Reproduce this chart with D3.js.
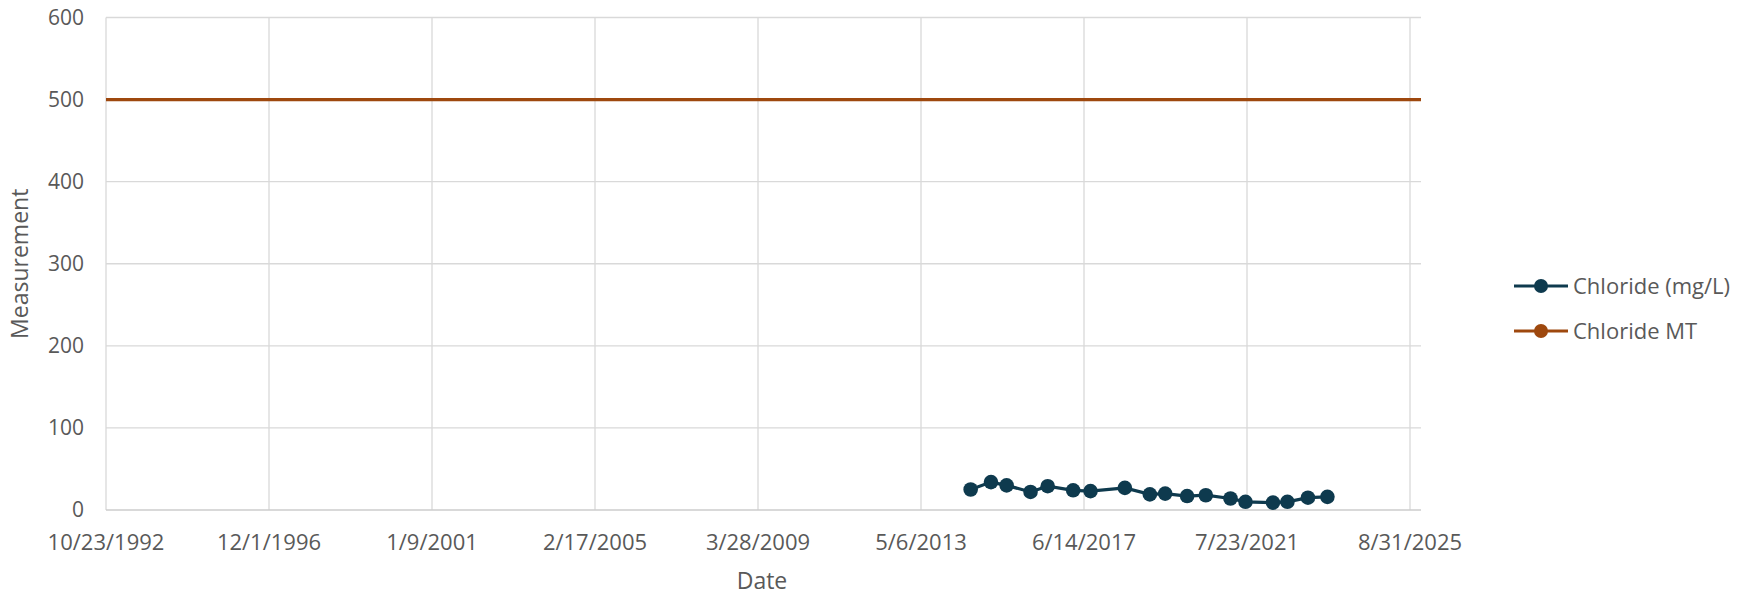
<!DOCTYPE html>
<html>
<head>
<meta charset="utf-8">
<script src="https://cdn.jsdelivr.net/npm/d3@7"></script>
<style>
  body { margin: 0; background: #fff; }
  svg { display: block; font-family: "Open Sans", "Liberation Sans", sans-serif; }
</style>
</head>
<body>
<svg id="chart"></svg>
<script>
// chloride samples (date, mg/L)
var sampleDates = ["8/6/2014", "2/9/2015", "7/3/2015", "2/8/2016", "7/15/2016", "3/6/2017",
  "8/13/2017", "6/25/2018", "2/10/2019", "7/1/2019", "1/19/2020", "7/9/2020",
  "2/21/2021", "7/9/2021", "3/19/2022", "7/30/2022", "2/4/2023", "8/2/2023"];
var chlorideValues = [25, 34, 30, 22, 29, 24, 23, 27, 19, 20, 17, 18, 14, 10, 9, 10, 15, 16];

// maximum threshold
var mtDates = ["10/23/1992", "12/19/2025"];
var mtValues = [500, 500];

var xTickLabels = ["10/23/1992", "12/1/1996", "1/9/2001", "2/17/2005", "3/28/2009",
  "5/6/2013", "6/14/2017", "7/23/2021", "8/31/2025"];
var yTicks = [0, 100, 200, 300, 400, 500, 600];

var width = 1749, height = 595;
var parse = d3.utcParse("%m/%d/%Y");
var fmt = d3.utcFormat("%-m/%-d/%Y");

var svg = d3.select("#chart")
  .attr("width", width)
  .attr("height", height);

var plotLeft = 106, plotRight = 1421, plotTop = 17.5, plotBottom = 510;

var x = d3.scaleUtc()
  .domain([parse(xTickLabels[0]), parse(xTickLabels[xTickLabels.length - 1])])
  .range([plotLeft, 1410]);
var y = d3.scaleLinear()
  .domain([0, 600])
  .range([plotBottom, plotTop]);

var tickDates = xTickLabels.map(parse);

// gridlines
svg.append("g")
  .selectAll("line")
  .data(yTicks.slice(1))
  .enter().append("line")
    .attr("x1", plotLeft).attr("x2", plotRight)
    .attr("y1", function(d) { return y(d); })
    .attr("y2", function(d) { return y(d); })
    .attr("stroke", "#d9d9d9")
    .attr("stroke-width", 1.3);
svg.append("g")
  .selectAll("line")
  .data(tickDates)
  .enter().append("line")
    .attr("x1", function(d) { return x(d); })
    .attr("x2", function(d) { return x(d); })
    .attr("y1", plotTop).attr("y2", plotBottom)
    .attr("stroke", "#d9d9d9")
    .attr("stroke-width", 1.3);
svg.append("line")
  .attr("x1", plotLeft).attr("x2", plotRight)
  .attr("y1", y(0)).attr("y2", y(0))
  .attr("stroke", "#cccccc")
  .attr("stroke-width", 1.5);

// tick labels
svg.append("g")
  .selectAll("text")
  .data(yTicks)
  .enter().append("text")
    .attr("x", 84)
    .attr("y", function(d) { return y(d); })
    .attr("dy", "0.35em")
    .attr("text-anchor", "end")
    .attr("font-size", 21)
    .attr("fill", "#595959")
    .text(function(d) { return d; });
svg.append("g")
  .selectAll("text")
  .data(tickDates)
  .enter().append("text")
    .attr("x", function(d) { return x(d); })
    .attr("y", 550)
    .attr("text-anchor", "middle")
    .attr("font-size", 22)
    .attr("fill", "#595959")
    .text(function(d) { return fmt(d); });

// axis titles
svg.append("text")
  .attr("transform", "translate(28," + ((plotTop + plotBottom) / 2) + ") rotate(-90)")
  .attr("text-anchor", "middle")
  .attr("font-size", 23)
  .attr("fill", "#595959")
  .text("Measurement");
svg.append("text")
  .attr("x", 762)
  .attr("y", 589)
  .attr("text-anchor", "middle")
  .attr("font-size", 23)
  .attr("fill", "#595959")
  .text("Date");

// series
var mtData = mtDates.map(function(d, i) { return { date: parse(d), value: mtValues[i] }; });
var clData = sampleDates.map(function(d, i) { return { date: parse(d), value: chlorideValues[i] }; });

var line = d3.line()
  .x(function(d) { return x(d.date); })
  .y(function(d) { return y(d.value); });

svg.append("defs").append("clipPath").attr("id", "plot")
  .append("rect")
    .attr("x", plotLeft).attr("y", plotTop - 5)
    .attr("width", plotRight - plotLeft).attr("height", plotBottom - plotTop + 10);

svg.append("path")
  .datum(mtData)
  .attr("clip-path", "url(#plot)")
  .attr("d", line)
  .attr("fill", "none")
  .attr("stroke", "#9e480e")
  .attr("stroke-width", 3.2);

svg.append("path")
  .datum(clData)
  .attr("d", line)
  .attr("fill", "none")
  .attr("stroke", "#0e3a4e")
  .attr("stroke-width", 3.2);

svg.append("g")
  .selectAll("circle")
  .data(clData)
  .enter().append("circle")
    .attr("cx", function(d) { return x(d.date); })
    .attr("cy", function(d) { return y(d.value); })
    .attr("r", 7.3)
    .attr("fill", "#0e3a4e");

// legend
var legend = [
  { name: "Chloride (mg/L)", color: "#0e3a4e" },
  { name: "Chloride MT", color: "#9e480e" }
];
var lg = svg.append("g")
  .selectAll("g")
  .data(legend)
  .enter().append("g")
    .attr("transform", function(d, i) { return "translate(0," + (286 + i * 45) + ")"; });
lg.append("line")
  .attr("x1", 1514).attr("x2", 1568)
  .attr("stroke", function(d) { return d.color; })
  .attr("stroke-width", 3.2);
lg.append("circle")
  .attr("cx", 1541)
  .attr("r", 7)
  .attr("fill", function(d) { return d.color; });
lg.append("text")
  .attr("x", 1573)
  .attr("dy", "0.35em")
  .attr("font-size", 22)
  .attr("fill", "#595959")
  .text(function(d) { return d.name; });
</script>
</body>
</html>
